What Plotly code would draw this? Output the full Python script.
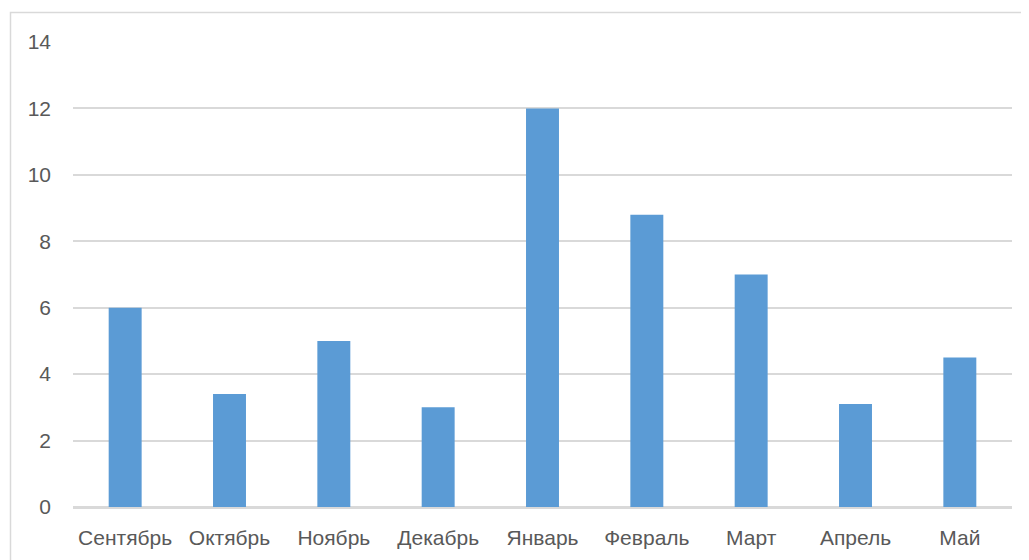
import plotly.graph_objects as go

months = ["Сентябрь", "Октябрь", "Ноябрь", "Декабрь", "Январь", "Февраль", "Март", "Апрель", "Май"]
values = [6, 3.4, 5, 3, 12, 8.8, 7, 3.1, 4.5]
y_ticks = [0, 2, 4, 6, 8, 10, 12, 14]

fig = go.Figure(go.Bar(x=months, y=values, marker_color="#5b9bd5", marker_line_width=0))

# page body has an 8px margin; compensate so the plot lands where the reference has it
OFF = 8
W, H = 1029 - OFF, 560 - OFF
L, R, T, B = 73 - OFF, 17, 42 - OFF, 53
pw, ph = W - L - R, H - T - B

def px_x(p):
    return (p - OFF - L) / pw

def px_y(p):
    return (H - B - (p - OFF)) / ph

fig.add_shape(type="rect", xref="paper", yref="paper",
              x0=px_x(10.5), x1=px_x(1045), y0=px_y(12.5), y1=px_y(580),
              line=dict(color="#d9d9d9", width=1.5), fillcolor="rgba(0,0,0,0)", layer="below")

fig.update_layout(
    width=W, height=H,
    margin=dict(l=L, r=R, t=T, b=B),
    paper_bgcolor="white", plot_bgcolor="white",
    bargap=0.684,
    showlegend=False,
    font=dict(family="Liberation Sans, Arial, sans-serif", size=21, color="#595959"),
    xaxis=dict(showgrid=False, showline=True, linecolor="#d9d9d9", linewidth=1.5,
               ticks="", ticklabelstandoff=11, tickfont=dict(size=21, color="#595959")),
    yaxis=dict(range=[0, 14], tickvals=y_ticks, showgrid=True, gridcolor="#d9d9d9", gridwidth=1.5,
               zeroline=True, zerolinecolor="#d9d9d9", zerolinewidth=1.5, showline=False, ticks="",
               ticklabelstandoff=21, tickfont=dict(size=21, color="#595959")),
)

fig.write_html("out.html")
